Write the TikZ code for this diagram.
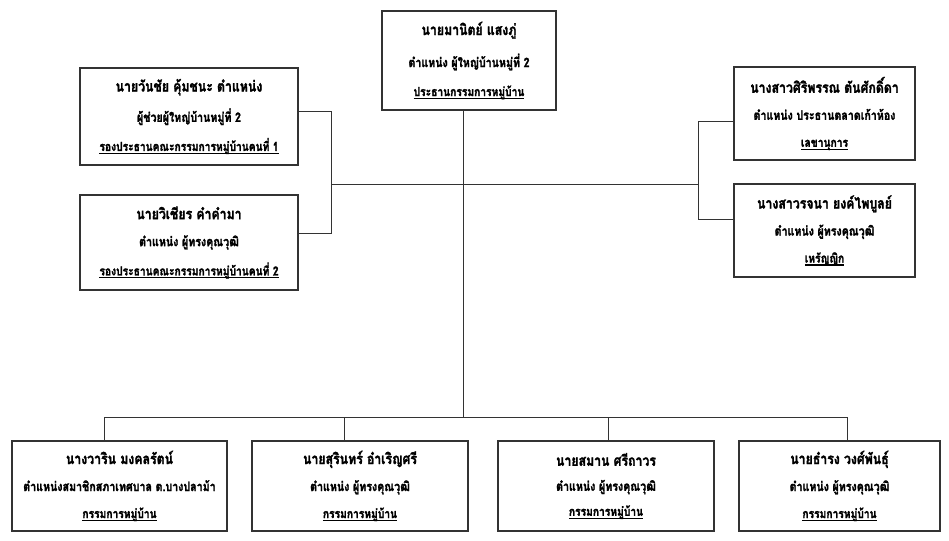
\documentclass[tikz,border=0pt]{standalone}
\usepackage{fontspec}
\newfontfamily\thaifont[Script=Thai,FakeStretch=0.82,BoldFeatures={FakeBold=1.8}]{Loma}
\tikzset{
  box/.style={draw=black!80, line width=1.1pt, fill=white, align=center, inner sep=0pt,
    font=\thaifont\bfseries\fontsize{13}{15}\selectfont},
  conn/.style={draw=black!80, line width=1pt},
}
\newcommand{\thul}[1]{\setbox0\hbox{#1}\leavevmode\rlap{\raisebox{-3pt}{\rule{\wd0}{1.2pt}}}\box0}
\newcommand{\lA}[1]{{\fontsize{15}{15}\selectfont #1}}
\newcommand{\lB}[1]{{\fontsize{13}{15}\selectfont #1}}
\newcommand{\lC}[1]{{\fontsize{12.5}{15}\selectfont\thul{#1}}}
\begin{document}
\begin{tikzpicture}[x=1pt,y=-1pt]
\useasboundingbox[fill=white] (0,0) rectangle (949,540);
% boxes
\node[box, minimum width=174pt, minimum height=99pt] (top) at (469,60.5)
  {\lA{นายมานิตย์ แสงภู่}\\[14pt]\lB{ตำแหน่ง ผู้ใหญ่บ้านหมู่ที่ 2}\\[14pt]\lC{ประธานกรรมการหมู่บ้าน}};
\node[box, minimum width=218pt, minimum height=97pt] (L1) at (189,116.5)
  {\lA{นายวันชัย คุ้มชนะ ตำแหน่ง}\\[12pt]\lB{ผู้ช่วยผู้ใหญ่บ้านหมู่ที่ 2}\\[12pt]\lC{รองประธานคณะกรรมการหมู่บ้านคนที่ 1}};
\node[box, minimum width=218pt, minimum height=95pt] (L2) at (189,242.5)
  {\lA{นายวิเชียร คำคำมา}\\[12pt]\lB{ตำแหน่ง ผู้ทรงคุณวุฒิ}\\[12pt]\lC{รองประธานคณะกรรมการหมู่บ้านคนที่ 2}};
\node[box, minimum width=181pt, minimum height=93pt] (R1) at (824.5,113.5)
  {\lA{นางสาวศิริพรรณ ตันศักดิ์ดา}\\[12pt]\lB{ตำแหน่ง ประธานตลาดเก้าห้อง}\\[12pt]\lC{เลขานุการ}};
\node[box, minimum width=181pt, minimum height=93pt] (R2) at (824.5,230.5)
  {\lA{นางสาวรจนา ยงค์ไพบูลย์}\\[12pt]\lB{ตำแหน่ง ผู้ทรงคุณวุฒิ}\\[12pt]\lC{เหรัญญิก}};
\node[box, minimum width=215pt, minimum height=90pt] (B1) at (119.5,486)
  {\lA{นางวาริน มงคลรัตน์}\\[12pt]\lB{ตำแหน่งสมาชิกสภาเทศบาล ต.บางปลาม้า}\\[12pt]\lC{กรรมการหมู่บ้าน}};
\node[box, minimum width=216pt, minimum height=90pt] (B2) at (360,486)
  {\lA{นายสุรินทร์ อำเริญศรี}\\[12pt]\lB{ตำแหน่ง ผู้ทรงคุณวุฒิ}\\[12pt]\lC{กรรมการหมู่บ้าน}};
\node[box, minimum width=216pt, minimum height=90pt] (B3) at (606,486)
  {\lA{นายสมาน ศรีถาวร}\\[10pt]\lB{ตำแหน่ง ผู้ทรงคุณวุฒิ}\\[10pt]\lC{กรรมการหมู่บ้าน}};
\node[box, minimum width=201pt, minimum height=90pt] (B4) at (839.5,486)
  {\lA{นายธำรง วงศ์พันธุ์}\\[12pt]\lB{ตำแหน่ง ผู้ทรงคุณวุฒิ}\\[12pt]\lC{กรรมการหมู่บ้าน}};
% junctions
\coordinate (jL1) at (331,112);
\coordinate (jL2) at (331,233);
\coordinate (jLm) at (331,184);
\coordinate (jRm) at (698,184);
\coordinate (jR1) at (698,122);
\coordinate (jR2) at (698,219);
\coordinate (bus) at (463,417);
\coordinate (b1) at (104,417);
\coordinate (b2) at (344,417);
\coordinate (b3) at (608,417);
\coordinate (b4) at (847,417);
% connectors
\draw[conn] (L1.east |- jL1) -- (jL1) -- (jL2) -- (L2.east |- jL2);
\draw[conn] (jLm) -- (jRm);
\draw[conn] (R1.west |- jR1) -- (jR1) -- (jR2) -- (R2.west |- jR2);
\draw[conn] (top.south -| bus) -- (bus);
\draw[conn] (b1) -- (b4);
\draw[conn] (b1) -- (B1.north -| b1);
\draw[conn] (b2) -- (B2.north -| b2);
\draw[conn] (b3) -- (B3.north -| b3);
\draw[conn] (b4) -- (B4.north -| b4);
\end{tikzpicture}
\end{document}
